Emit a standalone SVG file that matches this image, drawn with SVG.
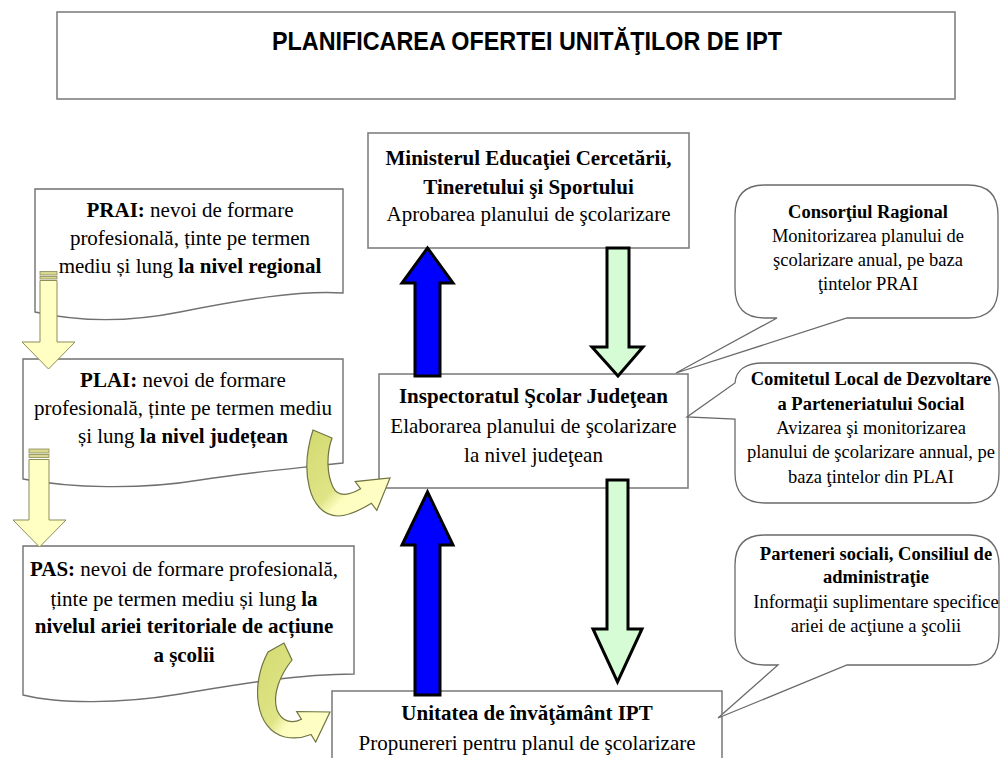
<svg xmlns="http://www.w3.org/2000/svg" width="1000" height="758" viewBox="0 0 1000 758">
<defs>
<style>
.box{fill:#fff;stroke:#808080;stroke-width:1.6}
.doc{fill:#fff;stroke:#707070;stroke-width:1.4}
.call{fill:#fff;stroke:#6a6a6a;stroke-width:1.3}
.t{font-family:"Liberation Serif","Times New Roman",serif;font-size:21px;fill:#000;text-anchor:middle}
.c{font-family:"Liberation Serif","Times New Roman",serif;font-size:18.5px;fill:#000;text-anchor:middle}
.b{font-weight:bold}
.blue{fill:#0000ff;stroke:#000;stroke-width:3;stroke-linejoin:miter}
.green{fill:#d6fcd6;stroke:#000;stroke-width:3;stroke-linejoin:miter}
.yel{fill:#ffffc4;stroke:#8c8c5c;stroke-width:1}
.stripe{fill:#d8d890;stroke:#8c8c5c;stroke-width:0.8}
.curve{stroke:#6f7440;stroke-width:1.2}
</style>
<linearGradient id="rib" x1="0" y1="0" x2="1" y2="1">
<stop offset="0" stop-color="#d3da70"/>
<stop offset="0.5" stop-color="#dfe486"/>
<stop offset="0.62" stop-color="#fdfdc0"/>
<stop offset="1" stop-color="#ffffc8"/>
</linearGradient>
</defs>
<rect width="1000" height="758" fill="#fff"/>

<g id="title">
<rect class="box" x="57" y="12" width="898" height="87" stroke-width="2"/>
<text x="272" y="50" font-family="'Liberation Sans',Arial,sans-serif" font-weight="bold" font-size="26" textLength="510" lengthAdjust="spacingAndGlyphs">PLANIFICAREA OFERTEI UNITĂŢILOR DE IPT</text>
</g>

<g id="ministerul">
<rect class="box" x="368" y="133" width="321" height="115"/>
<text class="t b" x="528.5" y="165">Ministerul Educaţiei Cercetării,</text>
<text class="t b" x="528.5" y="194">Tineretului şi Sportului</text>
<text class="t" x="528.5" y="221">Aprobarea planului de şcolarizare</text>
</g>

<g id="inspectorat">
<rect class="box" x="379" y="374" width="309" height="114"/>
<text class="t b" x="533.5" y="403">Inspectoratul Şcolar Judeţean</text>
<text class="t" x="533.5" y="433">Elaborarea planului de şcolarizare</text>
<text class="t" x="533.5" y="462">la nivel judeţean</text>
</g>

<g id="unitatea">
<rect class="box" x="332" y="691" width="390" height="90"/>
<text class="t b" x="527" y="720">Unitatea de învăţământ IPT</text>
<text class="t" x="527" y="750">Propunereri pentru planul de şcolarizare</text>
</g>

<g id="prai">
<path class="doc" d="M35,189 H343 V293 C300,290 240,300 180,312 C130,322 80,322 35,312 Z"/>
<text class="t" x="190" y="217"><tspan class="b">PRAI:</tspan> nevoi de formare</text>
<text class="t" x="190" y="245">profesională, ținte pe termen</text>
<text class="t" x="190" y="273">mediu și lung <tspan class="b">la nivel regional</tspan></text>
</g>

<g id="plai">
<path class="doc" d="M23,359 H343 V463 C300,468 250,472 200,480 C140,490 70,488 23,479 Z"/>
<text class="t" x="183" y="387"><tspan class="b">PLAI:</tspan> nevoi de formare</text>
<text class="t" x="183" y="415">profesională, ținte pe termen mediu</text>
<text class="t" x="183" y="443">și lung <tspan class="b">la nivel județean</tspan></text>
</g>

<g id="pas">
<path class="doc" d="M23,546 H354 V674 C300,674 240,684 180,694 C120,704 60,704 23,695 Z"/>
<text class="t" x="184" y="576"><tspan class="b">PAS:</tspan> nevoi de formare profesională,</text>
<text class="t" x="184" y="606">ținte pe termen mediu și lung <tspan class="b">la</tspan></text>
<text class="t b" x="184" y="633">nivelul ariei teritoriale de acțiune</text>
<text class="t b" x="184" y="662">a școlii</text>
</g>

<g id="consortiul">
<path class="call" d="M765,185 H968 C988,185 998,195 998,215 V288 C998,308 988,318 968,318 H847 L676,373 L777,318 H765 C745,318 735,308 735,288 V215 C735,195 745,185 765,185 Z"/>
<text class="c b" x="868" y="218">Consorţiul Ragional</text>
<text class="c" x="868" y="242">Monitorizarea planului de</text>
<text class="c" x="868" y="266">şcolarizare anual, pe baza</text>
<text class="c" x="868" y="290">ţintelor PRAI</text>
</g>

<g id="comitetul">
<path class="call" d="M763,363 H969 C989,363 999,373 999,393 V473 C999,493 989,503 969,503 H765 C745,503 735,493 735,473 V419 L687,417 L735,383 C736,370 746,363 763,363 Z"/>
<text class="c b" x="871" y="385">Comitetul Local de Dezvoltare</text>
<text class="c b" x="871" y="410">a Parteneriatului Social</text>
<text class="c" x="871" y="434">Avizarea şi monitorizarea</text>
<text class="c" x="871" y="458">planului de şcolarizare annual, pe</text>
<text class="c" x="871" y="483">baza ţintelor din PLAI</text>
</g>

<g id="parteneri">
<path class="call" d="M765,535 H969 C989,535 999,545 999,565 V635 C999,655 989,665 969,665 H847 L718,718 L778,665 H765 C745,665 735,655 735,635 V565 C735,545 745,535 765,535 Z"/>
<text class="c b" x="876" y="560">Parteneri sociali, Consiliul de</text>
<text class="c b" x="876" y="583">administraţie</text>
<text class="c" x="876" y="608">Informaţii suplimentare specifice</text>
<text class="c" x="876" y="632">ariei de acţiune a şcolii</text>
</g>

<g id="connectors">
<path class="blue" d="M427.5,248 L453,283 H440 V376 H415 V283 H402 Z"/>
<path class="blue" d="M427.5,492 L453,545 H440 V695 H415 V545 H402 Z"/>
<path class="green" d="M607,248 H629 V347 H643 L618,376 L592,347 H607 Z"/>
<path class="green" d="M607,480 H628 V629 H642 L617.5,682 L593,629 H607 Z"/>

<rect class="stripe" x="40" y="271.5" width="17" height="3.5"/>
<rect class="stripe" x="40" y="276.5" width="17" height="2.5"/>
<path class="yel" d="M40,280.5 H57 V342 H75 L48.5,369 L22,342 H40 Z"/>

<rect class="stripe" x="29" y="449" width="20" height="4"/>
<rect class="stripe" x="29" y="454.5" width="20" height="3"/>
<path class="yel" d="M29,459.5 H49 V520 H66 L39.5,547 L13,520 H29 Z"/>

<path class="curve" fill="url(#rib)" d="M313,430 C300,470 308,515 338,516 C350,516 362,509 371.4,503.2 L376.8,510.4 L390,478 L355.2,481.6 L360.6,488.8 C350,495 338,498 333,487 C327,475 326,455 332,438 Z"/>
<path class="curve" fill="url(#rib)" d="M268,652 C250,685 255,730 285,737 C295,739 305,737 311,734.5 L315.7,742.1 L330,712 L296.7,711.5 L301.4,719.2 C292,724 282,722 277,710 C272,695 280,675 292,660 L284,643 Z"/>
</g>
</svg>
